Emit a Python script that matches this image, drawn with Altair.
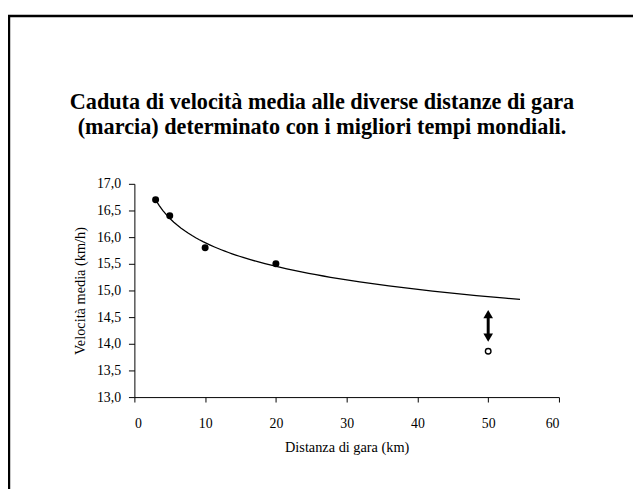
import altair as alt
import pandas as pd

# data
dist = [3, 5, 10, 20]
speed = [16.7, 16.4, 15.8, 15.5]
open_dist = [50]
open_speed = [13.86]
arrow_x = [50]
arrow_top = [14.555]
arrow_bottom = [14.116]
fit_extent = [3, 54.5]
x_ticks = [0, 10, 20, 30, 40, 50, 60]
y_ticks = [13.0, 13.5, 14.0, 14.5, 15.0, 15.5, 16.0, 16.5, 17.0]
title_lines = ["Caduta di velocità media alle diverse distanze di gara",
               "(marcia) determinato con i migliori tempi mondiali."]

FONT = "Liberation Serif"

pts = pd.DataFrame({"dist": dist, "speed": speed})
opn = pd.DataFrame({"dist": open_dist, "speed": open_speed})
arr = pd.DataFrame({"dist": arrow_x, "top": arrow_top, "bottom": arrow_bottom})
one = pd.DataFrame({"k": [0]})

xscale = alt.Scale(domain=[0, 60], nice=False, zero=False)
yscale = alt.Scale(domain=[13, 17], nice=False, zero=False)

xaxis = alt.Axis(values=x_ticks, title="Distanza di gara (km)", grid=False,
                 tickSize=5, labelPadding=15, titlePadding=10, labelOverlap=False)
yaxis = alt.Axis(values=y_ticks, title="Velocità media (km/h)", grid=False,
                 tickSize=6, labelPadding=8, titlePadding=9, labelOverlap=False,
                 labelExpr="replace(format(datum.value, '.1f'), '.', ',')")

X = alt.X("dist:Q", scale=xscale, axis=xaxis)
Y = alt.Y("speed:Q", scale=yscale, axis=yaxis)

base = alt.Chart(pts)

fit = base.transform_regression("dist", "speed", method="pow", extent=fit_extent).mark_line(
    color="black", strokeWidth=1.3
).encode(x=X, y=Y)

dots = base.mark_point(filled=True, color="black", size=50, opacity=1).encode(x=X, y=Y)

open_pt = alt.Chart(opn).mark_point(filled=False, color="black", fill="white",
                                    size=32, strokeWidth=1.4, opacity=1).encode(x=X, y=Y)

shaft = alt.Chart(arr).mark_rule(color="black", strokeWidth=3).encode(
    x=X, y=alt.Y("top:Q", scale=yscale, axis=yaxis), y2="bottom:Q",
)
head_up = alt.Chart(arr).mark_point(shape="triangle-up", filled=True, color="black",
                                    size=95, opacity=1).encode(
    x=X, y=alt.Y("top:Q", scale=yscale, axis=yaxis),
)
head_down = alt.Chart(arr).mark_point(shape="triangle-down", filled=True, color="black",
                                      size=95, opacity=1).encode(
    x=X, y=alt.Y("bottom:Q", scale=yscale, axis=yaxis),
)

frame_left = alt.Chart(one).mark_rule(color="black", strokeWidth=2.5).encode(
    x=alt.value(-127), y=alt.value(-171), y2=alt.value(320)
)
frame_top = alt.Chart(one).mark_rule(color="black", strokeWidth=2.5).encode(
    y=alt.value(-170), x=alt.value(-128.2), x2=alt.value(520)
)

title1 = alt.Chart(one).mark_text(
    font=FONT, fontSize=22.5, fontWeight="bold", color="black",
    align="center", baseline="alphabetic"
).encode(x=alt.value(190), y=alt.value(-76), text=alt.value(title_lines[0]))
title2 = alt.Chart(one).mark_text(
    font=FONT, fontSize=22.5, fontWeight="bold", color="black",
    align="center", baseline="alphabetic"
).encode(x=alt.value(190), y=alt.value(-50), text=alt.value(title_lines[1]))

chart = alt.layer(
    frame_left, frame_top, title1, title2, fit, dots, open_pt, shaft, head_up, head_down
).properties(
    width=430,
    height=216,
    autosize=alt.AutoSizeParams(type="none"),
    padding={"left": 128, "top": 175, "right": 75, "bottom": 90},
    background="white",
).configure_view(stroke=None).configure_axis(
    labelFont=FONT, titleFont=FONT, labelFontSize=14, titleFontSize=14.5,
    labelColor="black", titleColor="black", titleFontWeight="normal",
    domainColor="black", tickColor="black", domainWidth=1, tickWidth=1,
)

chart.save("out.html", embed_options={"renderer": "svg", "actions": False})
